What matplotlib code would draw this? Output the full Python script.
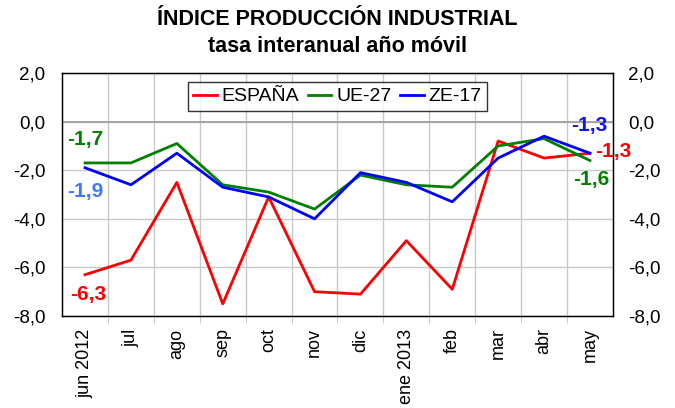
import numpy as np
import matplotlib.pyplot as plt
from matplotlib.ticker import FuncFormatter

plt.rcParams['font.family'] = ['Liberation Sans', 'DejaVu Sans']

meses = ["jun 2012", "jul", "ago", "sep", "oct", "nov", "dic",
         "ene 2013", "feb", "mar", "abr", "may"]
espana = [-6.3, -5.7, -2.5, -7.5, -3.1, -7.0, -7.1, -4.9, -6.9, -0.8, -1.5, -1.3]
ue27 = [-1.7, -1.7, -0.9, -2.6, -2.9, -3.6, -2.2, -2.6, -2.7, -1.0, -0.7, -1.6]
ze17 = [-1.9, -2.6, -1.3, -2.7, -3.1, -4.0, -2.1, -2.5, -3.3, -1.5, -0.6, -1.3]

fig = plt.figure(figsize=(6.75, 4.08), dpi=100)
ax = fig.add_axes([0.092, 0.2255, 0.816, 0.5955])
x = np.arange(len(meses))

ax.plot(x, espana, color='#ff0000', lw=2, label='ESPAÑA', zorder=3)
ax.plot(x, ue27, color='#008000', lw=2, label='UE-27', zorder=3)
ax.plot(x, ze17, color='#0000ff', lw=2, label='ZE-17', zorder=3)

ax.set_xlim(-0.5, len(meses) - 0.5)
ax.set_ylim(-8, 2)
ax.set_yticks(np.arange(-8, 2.1, 2))
fmt = FuncFormatter(lambda v, p: f"{v:.1f}".replace('.', ','))
ax.yaxis.set_major_formatter(fmt)
ax.set_xticks(x)
ax.set_xticklabels(meses, rotation=90, fontsize=13)
ax.set_xticks(np.arange(0.5, len(meses) - 0.5, 1), minor=True)
ax.tick_params(axis='x', which='major', length=0, pad=9)
ax.tick_params(axis='x', which='minor', length=5, color='#c0c0c0')
ax.tick_params(axis='y', labelsize=13.5, length=0, pad=12)
ax.grid(axis='x', which='minor', color='#c8c8c8', lw=1)
ax.grid(axis='y', which='major', color='#c8c8c8', lw=1)
ax.axhline(0, color='#a0a0a0', lw=1.3, zorder=2)
for s in ax.spines.values():
    s.set_color('black')
    s.set_linewidth(1)

ax2 = ax.twinx()
ax2.set_ylim(ax.get_ylim())
ax2.set_yticks(np.arange(-8, 2.1, 2))
ax2.yaxis.set_major_formatter(fmt)
ax2.tick_params(axis='y', labelsize=13.5, length=0, pad=11)

lbl = dict(fontsize=15, fontweight='bold', va='center', ha='left')
ax.text(-0.39, -0.75, "-1,7", color='#008000', **lbl)
ax.text(-0.39, -2.86, "-1,9", color='#3c78ff', **lbl)
ax.text(-0.33, -7.1, "-6,3", color='#ff0000', **lbl)
ax.text(10.6, -0.18, "-1,3", color='#1010ff', **lbl)
ax.text(11.11, -1.25, "-1,3", color='#ff0000', **lbl)
ax.text(10.63, -2.4, "-1,6", color='#008000', **lbl)

leg = ax.legend(loc='upper center', bbox_to_anchor=(0.5, 0.963), ncol=3, fontsize=14,
                frameon=True, fancybox=False, edgecolor='black', handlelength=1.2,
                handletextpad=0.25, columnspacing=0.45, borderpad=0.3,
                borderaxespad=0)
leg.get_frame().set_linewidth(1)

fig.text(0.5, 0.953, "ÍNDICE PRODUCCIÓN INDUSTRIAL", ha='center', va='center',
         fontsize=15.5, fontweight='bold')
fig.text(0.5, 0.887, "tasa interanual año móvil", ha='center', va='center',
         fontsize=15.5, fontweight='bold')

fig.savefig('out.png', dpi=100)
